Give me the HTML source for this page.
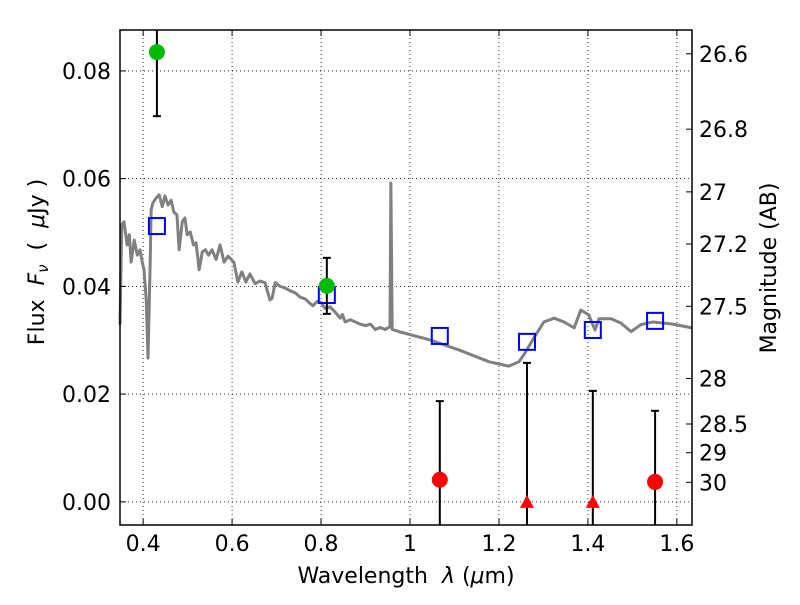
<!DOCTYPE html>
<html><head><meta charset="utf-8"><style>
body{margin:0;background:#fff}
svg text{font-family:"DejaVu Sans","Liberation Sans",sans-serif;fill:#000;white-space:pre}
</style></head><body>
<svg id="c" width="800" height="600" xmlns="http://www.w3.org/2000/svg"></svg>
<script>
const specLam=[0.348,0.352,0.357,0.364,0.369,0.373,0.380,0.387,0.393,0.398,0.402,0.407,0.411,0.416,0.418,0.422,0.429,0.436,0.443,0.449,0.456,0.463,0.469,0.476,0.481,0.488,0.494,0.499,0.506,0.513,0.519,0.526,0.533,0.540,0.547,0.555,0.564,0.573,0.582,0.591,0.604,0.613,0.622,0.631,0.640,0.652,0.663,0.674,0.685,0.690,0.697,0.708,0.719,0.730,0.742,0.753,0.764,0.773,0.782,0.791,0.800,0.809,0.820,0.832,0.843,0.848,0.854,0.866,0.877,0.888,0.900,0.911,0.922,0.933,0.944,0.955,0.957,0.960,0.975,1.043,1.110,1.178,1.222,1.245,1.256,1.279,1.301,1.324,1.346,1.369,1.384,1.402,1.416,1.425,1.452,1.474,1.497,1.519,1.546,1.591,1.634];
const specFlux=[0.0329,0.0514,0.0520,0.0477,0.0496,0.0445,0.0486,0.0458,0.0468,0.0445,0.0431,0.0375,0.0267,0.0450,0.0542,0.0555,0.0564,0.0570,0.0548,0.0568,0.0551,0.0560,0.0538,0.0533,0.0468,0.0520,0.0527,0.0496,0.0501,0.0477,0.0481,0.0431,0.0464,0.0468,0.0458,0.0468,0.0450,0.0477,0.0445,0.0456,0.0445,0.0408,0.0427,0.0408,0.0423,0.0405,0.0410,0.0407,0.0375,0.0378,0.0407,0.0400,0.0397,0.0392,0.0388,0.0380,0.0377,0.0370,0.0364,0.0372,0.0370,0.0359,0.0362,0.0352,0.0341,0.0348,0.0334,0.0338,0.0334,0.0330,0.0327,0.0330,0.0320,0.0324,0.0320,0.0325,0.0592,0.0320,0.0316,0.0301,0.0282,0.0260,0.0252,0.0260,0.0273,0.0305,0.0334,0.0341,0.0334,0.0323,0.0356,0.0347,0.0319,0.0340,0.0340,0.0332,0.0316,0.0329,0.0334,0.0330,0.0323];
const boxLam=[0.431,0.813,1.067,1.263,1.411,1.551];
const boxFlux=[0.0512,0.0384,0.0308,0.0297,0.0319,0.0336];
const detLam=[0.431,0.813];
const detFlux=[0.0835,0.0401];
const detErr=[0.0119,0.0052];
const ndLam=[1.067,1.551];
const ndFlux=[0.0041,0.0037];
const ndErr=[0.0146,0.0132];
const limLam=[1.263,1.411];
const limFlux=[0,0];
const limErr=[0.0258,0.0206];
const xTicks=[0.4,0.6,0.8,1.0,1.2,1.4,1.6];
const xTickLabels=["0.4","0.6","0.8","1","1.2","1.4","1.6"];
const yTicks=[0,0.02,0.04,0.06,0.08];
const yTickLabels=["0.00","0.02","0.04","0.06","0.08"];
const magTicks=[26.6,26.8,27,27.2,27.5,28,28.5,29,30];

const L=120,R=692,T=30,B=525;
const xMin=0.348,xMax=1.634,yMin=-0.0043,yMax=0.0876;
const X=v=>L+(v-xMin)/(xMax-xMin)*(R-L);
const Y=v=>B-(v-yMin)/(yMax-yMin)*(B-T);
const svg=document.getElementById('c');
const NS='http://www.w3.org/2000/svg';
function mk(tag,attrs,parent){const e=document.createElementNS(NS,tag);for(const k in attrs)e.setAttribute(k,attrs[k]);(parent||svg).appendChild(e);return e;}
function txt(s,x,y,anchor,size){const t=mk('text',{x:x,y:y,'text-anchor':anchor,'font-size':size});t.textContent=s;return t;}

const grid=mk('g',{});


xTicks.forEach(v=>mk('line',{x1:X(v),x2:X(v),y1:T,y2:B,stroke:'#000','stroke-dasharray':'1,3','stroke-width':0.8},grid));
yTicks.forEach(v=>mk('line',{x1:L,x2:R,y1:Y(v),y2:Y(v),stroke:'#000','stroke-dasharray':'1,3','stroke-width':0.8},grid));

const sp=mk('polyline',{points:specLam.map((l,i)=>X(l)+','+Y(specFlux[i])).join(' '),fill:'none',stroke:'#808080','stroke-width':3,'stroke-linejoin':'round'});



boxLam.forEach((l,i)=>{const r=mk('rect',{x:X(l)-8,y:Y(boxFlux[i])-8,width:16,height:16,fill:'none',stroke:'#0000ff','stroke-width':2});

});

function errbar(l,f,e){const g=mk('g',{stroke:'#000','stroke-width':2});


const x=X(l),y1=Y(f+e),y2=Y(f-e);
mk('line',{x1:x,x2:x,y1:Math.max(y1,T),y2:Math.min(y2,B)},g);
if(y1>=T)mk('line',{x1:x-4,x2:x+4,y1:y1,y2:y1},g);
if(y2<=B)mk('line',{x1:x-4,x2:x+4,y1:y2,y2:y2},g);}
detLam.forEach((l,i)=>{errbar(l,detFlux[i],detErr[i]);
const c=mk('circle',{cx:X(l),cy:Y(detFlux[i]),r:8,fill:'#00bb00'});

});
ndLam.forEach((l,i)=>{errbar(l,ndFlux[i],ndErr[i]);
const c=mk('circle',{cx:X(l),cy:Y(ndFlux[i]),r:8,fill:'#ff0000'});

});
limLam.forEach((l,i)=>{errbar(l,limFlux[i],limErr[i]);
const x=X(l),y=Y(limFlux[i]);
const p=mk('polygon',{points:`${x-7},${y+6} ${x+7},${y+6} ${x},${y-7}`,fill:'#ff0000'});

});

const frame=mk('rect',{x:L,y:T,width:R-L,height:B-T,fill:'none',stroke:'#000','stroke-width':1.5});



xTicks.forEach((v,i)=>{mk('line',{x1:X(v),x2:X(v),y1:B,y2:B-6,stroke:'#000'});mk('line',{x1:X(v),x2:X(v),y1:T,y2:T+6,stroke:'#000'});
const t=txt(xTickLabels[i],X(v),B+26,'middle',22);

});
yTicks.forEach((v,i)=>{mk('line',{x1:L,x2:L+6,y1:Y(v),y2:Y(v),stroke:'#000'});
const t=txt(yTickLabels[i],L-9,Y(v)+8,'end',22);

});
magTicks.forEach(m=>{const f=Math.pow(10,(23.9-m)/2.5);const y=Y(f);
mk('line',{x1:R,x2:R-6,y1:y,y2:y,stroke:'#000'});
const t=txt(String(m),699,y+8,'start',22);

});

const xl=txt('',406,583,'middle',22);xl.innerHTML='Wavelength  <tspan font-style="italic">λ</tspan> (<tspan font-style="italic">μ</tspan>m)';


const yl=txt('',0,0,'middle',22);yl.setAttribute('transform','translate(44,262) rotate(-90)');
yl.innerHTML='Flux  <tspan font-style="italic">F</tspan><tspan font-style="italic" font-size="15" dy="4">ν</tspan><tspan dy="-4">  (  </tspan><tspan font-style="italic">μ</tspan>Jy )';


const rl=txt('Magnitude (AB)',0,0,'middle',22);rl.setAttribute('transform','translate(776,268) rotate(-90)');


</script>
</body></html>
